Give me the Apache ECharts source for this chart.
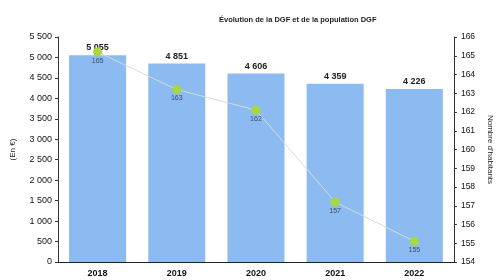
<!DOCTYPE html>
<html><head><meta charset="utf-8">
<script src="https://cdn.jsdelivr.net/npm/echarts@6/dist/echarts.min.js"></script>
<style>html,body{margin:0;padding:0;background:#fff}#c{width:502px;height:280px}</style>
</head><body><div id="c"></div>
<script>
const years = ['2018','2019','2020','2021','2022'];
const dgf = [5055, 4851, 4606, 4359, 4226];
const population = [165.2, 163.2, 162.1, 157.2, 155.1];
const popLabels = ['165','163','162','157','155'];
const titleText = 'Évolution de la DGF et de la population DGF';
const leftName = '(En €)';
const rightName = "Nombre d'habitants";

function fmt(v){ return String(v).replace(/\B(?=(\d{3})+(?!\d))/g, ' '); }

const chart = echarts.init(document.getElementById('c'));
chart.setOption({
  animation: false,
  textStyle: { fontFamily: 'Liberation Sans, Arial, sans-serif' },
  title: { text: titleText, left: 214, top: 11,
    textStyle: { fontSize: 7.5, fontWeight: 'bold', color: '#222' } },
  grid: { left: 58, right: 42, top: 37, bottom: 18 },
  xAxis: { type: 'category', data: years,
    axisLine: { lineStyle: { color: '#222', width: 1 } },
    axisTick: { show: false },
    axisLabel: { fontSize: 9, fontWeight: 'bold', color: '#111', margin: 7 } },
  yAxis: [
    { type: 'value', min: 0, max: 5500, interval: 500,
      name: leftName, nameLocation: 'middle', nameGap: 41,
      nameTextStyle: { fontSize: 8, color: '#222' },
      axisLine: { show: true, lineStyle: { color: '#333' } },
      axisTick: { show: true, length: 3, lineStyle: { color: '#333' } },
      splitLine: { show: false },
      axisLabel: { fontSize: 9, color: '#111', margin: 6, formatter: v => fmt(v) } },
    { type: 'value', min: 154, max: 166, interval: 1, position: 'right',
      name: rightName, nameLocation: 'middle', nameGap: 30, nameRotate: -90,
      nameTextStyle: { fontSize: 8, color: '#222' },
      axisLine: { show: true, lineStyle: { color: '#333' } },
      axisTick: { show: true, length: 3, lineStyle: { color: '#333' } },
      splitLine: { show: false },
      axisLabel: { fontSize: 8.5, color: '#111', margin: 7 } }
  ],
  series: [
    { type: 'bar', data: dgf, barCategoryGap: '28%',
      itemStyle: { color: '#8bbbf1' },
      label: { show: true, position: 'top', distance: 3, fontSize: 9, fontWeight: 'bold',
        color: '#222', formatter: p => fmt(p.value) } },
    { type: 'line', yAxisIndex: 1, data: population,
      symbol: 'circle', symbolSize: 9,
      lineStyle: { color: '#d6ddd2', width: 1 },
      itemStyle: { color: '#a8d83c' },
      label: { show: true, position: 'bottom', distance: 1, fontSize: 7,
        color: '#3f4b66', formatter: p => popLabels[p.dataIndex] } }
  ]
});
</script></body></html>
